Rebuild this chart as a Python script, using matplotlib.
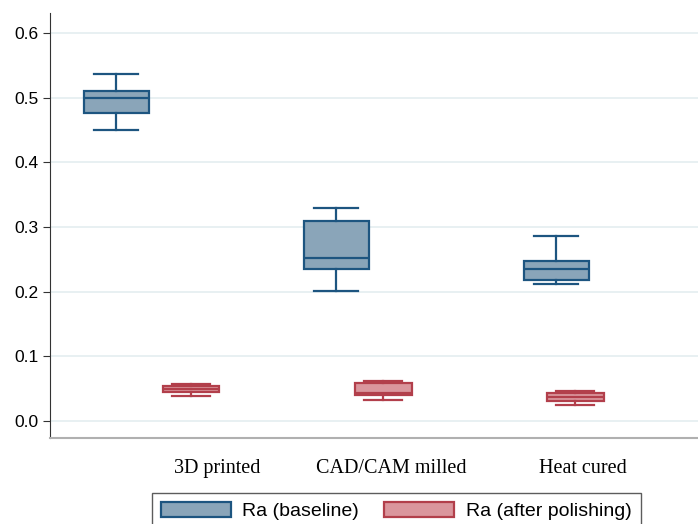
import matplotlib
matplotlib.use('Agg')
import matplotlib.pyplot as plt
from matplotlib.patches import Patch

# DATA
groups = ['3D printed', 'CAD/CAM milled', 'Heat cured']

base_whislo = [0.450, 0.202, 0.212]
base_q1 = [0.476, 0.236, 0.219]
base_med = [0.499, 0.252, 0.235]
base_q3 = [0.510, 0.309, 0.247]
base_whishi = [0.536, 0.329, 0.286]

pol_whislo = [0.039, 0.032, 0.025]
pol_q1 = [0.045, 0.040, 0.031]
pol_med = [0.049, 0.043, 0.037]
pol_q3 = [0.054, 0.059, 0.043]
pol_whishi = [0.057, 0.062, 0.046]

yticks = [0.0, 0.1, 0.2, 0.3, 0.4, 0.5, 0.6]

# layout (pixel-ish units along x)
BASE_POS = [0.66, 2.86, 5.06]
POL_POS = [1.41, 3.33, 5.25]
LABEL_POS = [1.67, 3.41, 5.33]

BLUE_FILL = '#8aa5b9'
BLUE_EDGE = '#1d5580'
RED_FILL = '#da969d'
RED_EDGE = '#b23f4b'


def make_stats(lo, q1, med, q3, hi):
    return [dict(whislo=a, q1=b, med=c, q3=d, whishi=e, fliers=[])
            for a, b, c, d, e in zip(lo, q1, med, q3, hi)]


fig = plt.figure(figsize=(6.98, 5.24), dpi=100)
ax = fig.add_axes([50 / 698, 1 - 438 / 524, 648 / 698, 425 / 524])

for stats, pos, width, fc, ec in [
    (make_stats(base_whislo, base_q1, base_med, base_q3, base_whishi), BASE_POS, 0.65, BLUE_FILL, BLUE_EDGE),
    (make_stats(pol_whislo, pol_q1, pol_med, pol_q3, pol_whishi), POL_POS, 0.57, RED_FILL, RED_EDGE),
]:
    ax.bxp(stats, positions=pos, widths=width, patch_artist=True,
           showfliers=False, capwidths=width * 0.68,
           boxprops=dict(facecolor=fc, edgecolor=ec, linewidth=1.6),
           medianprops=dict(color=ec, linewidth=1.6),
           whiskerprops=dict(color=ec, linewidth=1.6),
           capprops=dict(color=ec, linewidth=1.6))

ax.set_xlim(0, 6.48)
ax.set_ylim(-0.026, 0.631)
ax.set_yticks(yticks)
ax.set_yticklabels([f'{v:.1f}' for v in yticks], fontsize=12.5, family='Liberation Sans')
ax.set_xticks(LABEL_POS)
ax.set_xticklabels(groups, fontsize=14.5, family='Liberation Serif')
ax.tick_params(axis='x', length=0, pad=15)
ax.tick_params(axis='y', length=5, color='#333333', pad=3)
ax.grid(True, axis='y', color='#e8f0f2', linewidth=1.4)
ax.set_axisbelow(True)
for s in ['top', 'right']:
    ax.spines[s].set_visible(False)
ax.spines['left'].set_color('#333333')
ax.spines['bottom'].set_color('#b0b0b0')
ax.spines['bottom'].set_linewidth(1.5)

handles = [Patch(facecolor=BLUE_FILL, edgecolor=BLUE_EDGE, linewidth=1.6, label='Ra (baseline)'),
           Patch(facecolor=RED_FILL, edgecolor=RED_EDGE, linewidth=1.6, label='Ra (after polishing)')]
leg = fig.legend(handles=handles, loc='upper left', bbox_to_anchor=(152 / 698, 1 - 493 / 524),
                 ncol=2, prop={'family': 'Liberation Sans', 'size': 14},
                 frameon=True, fancybox=False, edgecolor='#333333',
                 handlelength=3.6, handleheight=0.85, handletextpad=0.6,
                 columnspacing=1.3, borderpad=0.45, borderaxespad=0)
leg.get_frame().set_linewidth(1.0)

fig.savefig('out.png', dpi=100)
